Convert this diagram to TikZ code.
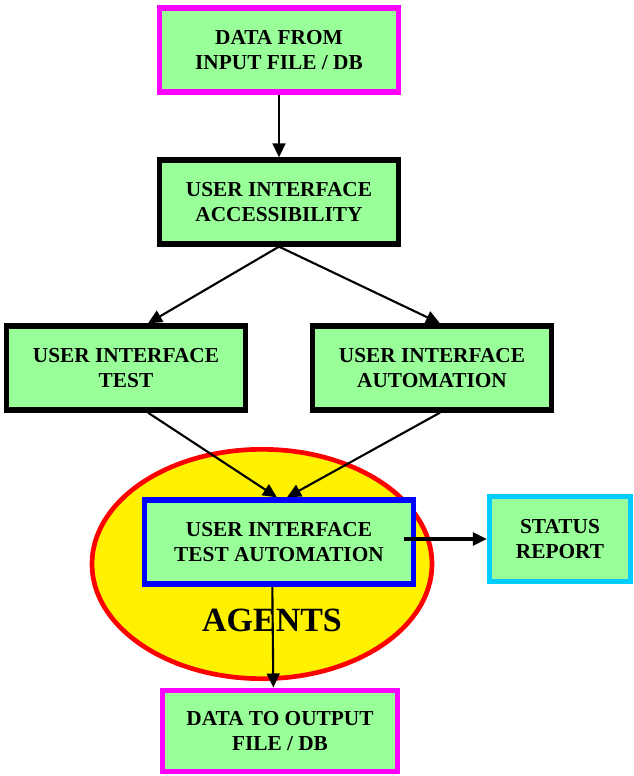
\documentclass[tikz,border=0pt]{standalone}
\usepackage{fontspec}
\setmainfont{Liberation Serif}
\usetikzlibrary{arrows.meta,shapes.geometric}
\definecolor{boxgreen}{HTML}{99FF99}
\definecolor{boxmagenta}{HTML}{FF00FF}
\definecolor{boxcyan}{HTML}{00CCFF}
\definecolor{boxblue}{HTML}{0000FF}
\begin{document}
\begin{tikzpicture}[x=0.03cm, y=-0.03cm,
    box/.style = {draw, fill=boxgreen, line width=4.5pt, align=center,
        font=\bfseries\fontsize{18.2}{21.5}\selectfont,
        minimum width=7.15cm, minimum height=2.52cm, inner sep=0pt},
    flow/.style = {line width=1.8pt, -{Triangle[length=12pt,width=11pt]}}]
    \useasboundingbox (0,0) rectangle (633,776);
    \node[ellipse, draw=red, fill=yellow, line width=4pt,
          minimum width=10.2cm, minimum height=6.88cm] (zone) at (262,564) {};
    \node[font=\bfseries\fontsize{29}{30}\selectfont] (agents) at (272,620) {AGENTS};
    \node[box, draw=boxmagenta] (datain) at (279,50) {DATA FROM\\INPUT FILE / DB};
    \node[box] (access) at (279,202) {USER INTERFACE\\ACCESSIBILITY};
    \node[box] (uitest) at (126,368) {USER INTERFACE\\TEST};
    \node[box] (uiauto) at (432,368) {USER INTERFACE\\AUTOMATION};
    \node[box, draw=boxblue, minimum width=8.05cm, minimum height=2.52cm] (testauto) at (279,542) {USER INTERFACE\\TEST AUTOMATION};
    \node[box, draw=boxcyan, minimum width=4.23cm, minimum height=2.55cm] (status) at (560,539) {STATUS\\REPORT};
    \node[box, draw=boxmagenta, minimum width=7.05cm, minimum height=2.45cm] (dataout) at (280,731) {DATA TO OUTPUT\\FILE / DB};
    \draw[flow] (datain) -- (access);
    \draw[flow] (access.south) -- ([xshift=0.66cm]uitest.north);
    \draw[flow] (access.south) -- ([xshift=0.24cm]uiauto.north);
    \draw[flow] ([xshift=0.66cm]uitest.south) -- ([xshift=-0.06cm]testauto.north);
    \draw[flow] ([xshift=0.24cm]uiauto.south) -- ([xshift=0.24cm]testauto.north);
    \draw[flow, line width=2.6pt] ([xshift=-0.35cm]testauto.east |- status.west) -- (status.west);
    \draw[flow] ([xshift=-0.2cm]testauto.south) -- ([xshift=-0.2cm]dataout.north);
\end{tikzpicture}
\end{document}
